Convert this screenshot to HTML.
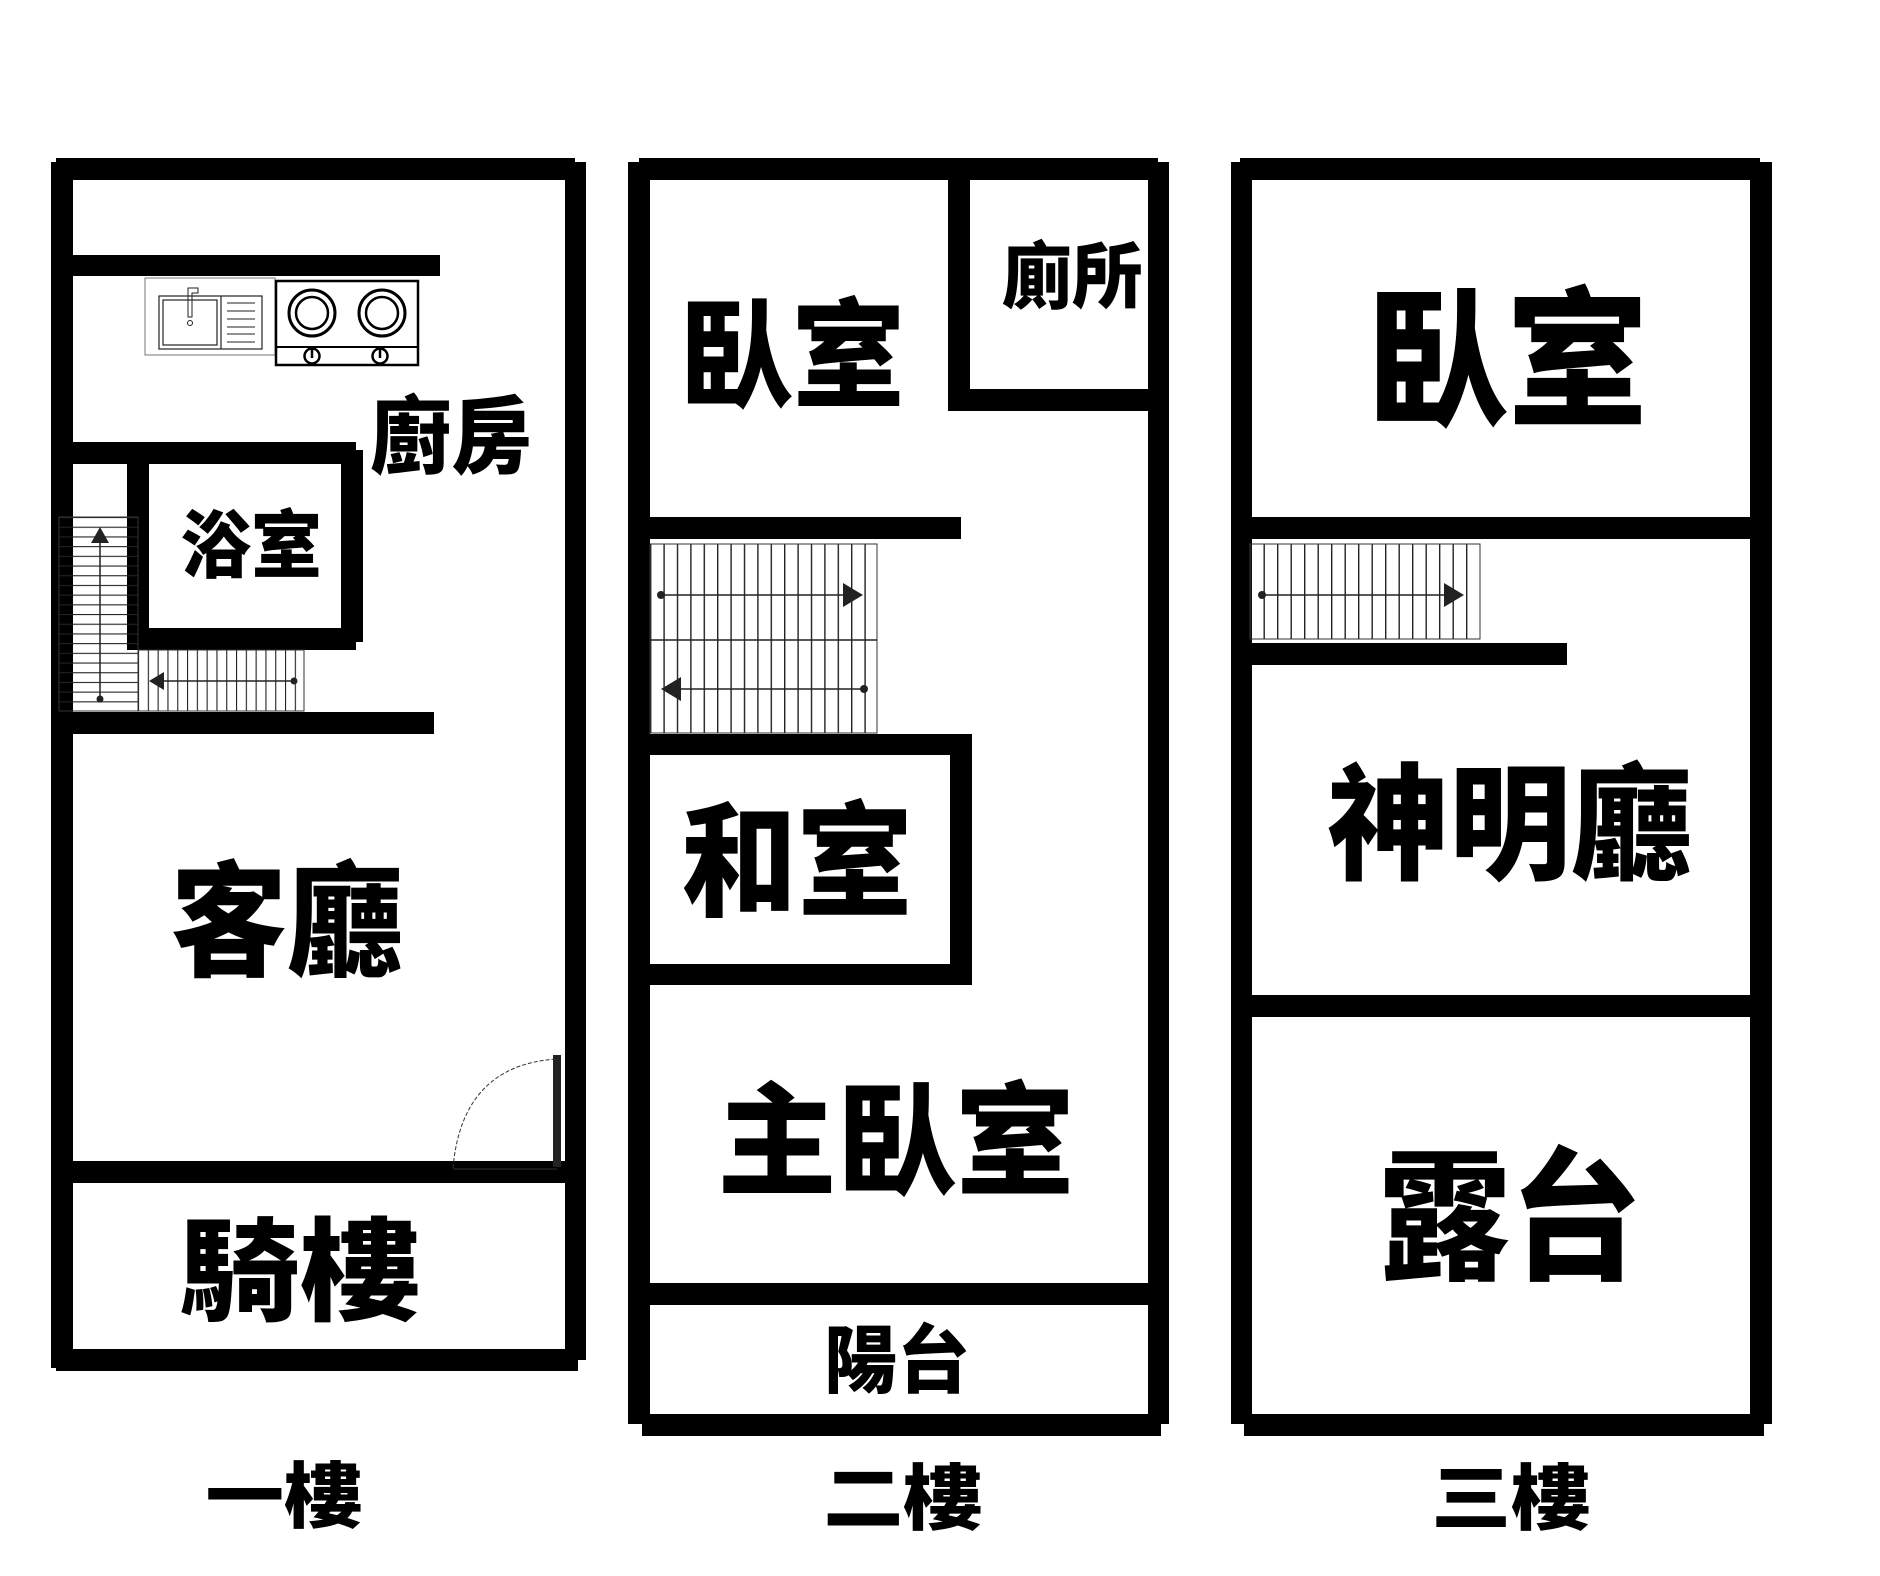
<!DOCTYPE html>
<html><head><meta charset="utf-8"><style>
html,body{margin:0;padding:0;background:#fff;}
svg{display:block;}
text{font-family:"Liberation Sans","Noto Sans CJK TC","Noto Sans CJK JP",sans-serif;font-weight:900;fill:#000;}
</style></head><body>
<svg width="1880" height="1576" viewBox="0 0 1880 1576" xmlns="http://www.w3.org/2000/svg">
<defs>
<pattern id="hl" x="0" y="517" width="20" height="9.7" patternUnits="userSpaceOnUse"><line x1="0" y1="0.5" x2="20" y2="0.5" stroke="#222" stroke-width="1.2"/></pattern>
<pattern id="vl1" x="138" y="0" width="9.8" height="20" patternUnits="userSpaceOnUse"><line x1="0.5" y1="0" x2="0.5" y2="20" stroke="#222" stroke-width="1.2"/></pattern>
<pattern id="vl2" x="650" y="0" width="13.4" height="20" patternUnits="userSpaceOnUse"><line x1="0.7" y1="0" x2="0.7" y2="20" stroke="#222" stroke-width="1.4"/></pattern>
<pattern id="vl3" x="1250" y="0" width="13.5" height="20" patternUnits="userSpaceOnUse"><line x1="0.7" y1="0" x2="0.7" y2="20" stroke="#222" stroke-width="1.4"/></pattern>
</defs>

<!-- ===== Floor 1 ===== -->
<g fill="#000">
<rect x="56" y="158" width="519" height="22"/>
<rect x="51" y="162" width="22" height="1206"/>
<rect x="565" y="162" width="21" height="1198"/>
<rect x="56" y="1349" width="522" height="22"/>
<rect x="73" y="255" width="367" height="21"/>
<rect x="73" y="442" width="283" height="22"/>
<rect x="127" y="442" width="22" height="208"/>
<rect x="341" y="450" width="22" height="192"/>
<rect x="138" y="628" width="218" height="22"/>
<rect x="73" y="712" width="361" height="22"/>
<rect x="73" y="1161" width="492" height="22"/>
<rect x="553" y="1055" width="8" height="112" fill="#222"/>
</g>
<path d="M453 1168 Q462 1065 557 1059" fill="none" stroke="#333" stroke-width="1" stroke-dasharray="4,2"/>
<line x1="453" y1="1169" x2="557" y2="1169" stroke="#333" stroke-width="1"/>
<!-- stairs floor1 -->
<rect x="59" y="517" width="79" height="194" fill="url(#hl)" stroke="#333" stroke-width="1"/>
<rect x="138" y="650" width="166" height="61" fill="url(#vl1)" stroke="#333" stroke-width="1"/>
<line x1="100" y1="699" x2="100" y2="540" stroke="#222" stroke-width="1.5"/>
<polygon points="100,527 91,543 109,543" fill="#222"/>
<circle cx="100" cy="699" r="3.5" fill="#222"/>
<line x1="294" y1="681" x2="160" y2="681" stroke="#222" stroke-width="1.5"/>
<polygon points="149,681 164,672 164,690" fill="#222"/>
<circle cx="294" cy="681" r="3.5" fill="#222"/>
<!-- sink -->
<g fill="none" stroke="#222">
<rect x="145" y="278" width="130" height="77" stroke-width="1" stroke="#777"/>
<rect x="159" y="296" width="103" height="53" stroke-width="1.2"/>
<line x1="221" y1="296" x2="221" y2="349" stroke-width="1.2"/>
<rect x="163" y="300" width="54" height="45" stroke-width="1.2"/>
<line x1="227" y1="303" x2="255" y2="303"/><line x1="227" y1="311" x2="255" y2="311"/><line x1="227" y1="319" x2="255" y2="319"/><line x1="227" y1="327" x2="255" y2="327"/><line x1="227" y1="334" x2="255" y2="334"/><line x1="227" y1="342" x2="255" y2="342"/>
<path d="M188 317 V288 H198 V293 H192 V317 Z" stroke-width="1"/>
<circle cx="190" cy="323" r="2.5" stroke-width="1"/>
<!-- stove -->
<rect x="276" y="281" width="142" height="84" stroke-width="2.5" stroke="#000"/>
<line x1="276" y1="347" x2="418" y2="347" stroke-width="2" stroke="#000"/>
<circle cx="312" cy="313" r="23" stroke-width="3" stroke="#000"/>
<circle cx="312" cy="313" r="16" stroke-width="2.5" stroke="#000"/>
<circle cx="382" cy="313" r="23" stroke-width="3" stroke="#000"/>
<circle cx="382" cy="313" r="16" stroke-width="2.5" stroke="#000"/>
<circle cx="312" cy="356" r="7.5" stroke-width="2.5" stroke="#000"/>
<circle cx="380" cy="356" r="7.5" stroke-width="2.5" stroke="#000"/>
<line x1="312" y1="349" x2="312" y2="358" stroke-width="2.5" stroke="#000"/>
<line x1="380" y1="349" x2="380" y2="358" stroke-width="2.5" stroke="#000"/>
</g>

<!-- ===== Floor 2 ===== -->
<g fill="#000">
<rect x="639" y="158" width="519" height="22"/>
<rect x="628" y="162" width="22" height="1262"/>
<rect x="1148" y="162" width="21" height="1262"/>
<rect x="642" y="1414" width="519" height="22"/>
<rect x="948" y="180" width="22" height="231"/>
<rect x="948" y="389" width="200" height="22"/>
<rect x="650" y="517" width="311" height="22"/>
<rect x="650" y="734" width="322" height="21"/>
<rect x="950" y="734" width="22" height="251"/>
<rect x="650" y="964" width="322" height="21"/>
<rect x="650" y="1283" width="498" height="22"/>
</g>
<rect x="650" y="544" width="227" height="189" fill="url(#vl2)" stroke="#333" stroke-width="1"/>
<line x1="650" y1="640" x2="877" y2="640" stroke="#222" stroke-width="1.5"/>
<line x1="661" y1="595" x2="848" y2="595" stroke="#222" stroke-width="1.5"/>
<polygon points="863,595 843,583 843,607" fill="#222"/>
<circle cx="661" cy="595" r="4" fill="#222"/>
<line x1="864" y1="689" x2="676" y2="689" stroke="#222" stroke-width="1.5"/>
<polygon points="661,689 681,677 681,701" fill="#222"/>
<circle cx="864" cy="689" r="4" fill="#222"/>

<!-- ===== Floor 3 ===== -->
<g fill="#000">
<rect x="1240" y="158" width="520" height="22"/>
<rect x="1231" y="162" width="21" height="1262"/>
<rect x="1750" y="162" width="22" height="1262"/>
<rect x="1244" y="1414" width="520" height="22"/>
<rect x="1252" y="517" width="498" height="22"/>
<rect x="1252" y="643" width="315" height="22"/>
<rect x="1252" y="995" width="498" height="22"/>
</g>
<rect x="1250" y="544" width="230" height="95" fill="url(#vl3)" stroke="#333" stroke-width="1"/>
<line x1="1262" y1="595" x2="1450" y2="595" stroke="#222" stroke-width="1.5"/>
<polygon points="1464,595 1444,583 1444,607" fill="#222"/>
<circle cx="1262" cy="595" r="4" fill="#222"/>

<!-- ===== Labels ===== -->
<g dominant-baseline="central" text-anchor="middle">
<text x="451" y="438" font-size="85" textLength="162" lengthAdjust="spacingAndGlyphs">廚房</text>
<text x="251" y="546" font-size="74" textLength="142" lengthAdjust="spacingAndGlyphs">浴室</text>
<text x="287" y="924" font-size="124" textLength="233" lengthAdjust="spacingAndGlyphs">客廳</text>
<text x="300" y="1273" font-size="112" textLength="241" lengthAdjust="spacingAndGlyphs">騎樓</text>
<text x="284" y="1498" font-size="72" textLength="157" lengthAdjust="spacingAndGlyphs">一樓</text>
<text x="792" y="358" font-size="118" textLength="226" lengthAdjust="spacingAndGlyphs">臥室</text>
<text x="1072" y="278" font-size="72" textLength="141" lengthAdjust="spacingAndGlyphs">廁所</text>
<text x="797" y="864" font-size="124" textLength="231" lengthAdjust="spacingAndGlyphs">和室</text>
<text x="896" y="1143" font-size="122" textLength="357" lengthAdjust="spacingAndGlyphs">主臥室</text>
<text x="897" y="1361" font-size="74" textLength="146" lengthAdjust="spacingAndGlyphs">陽台</text>
<text x="903" y="1500" font-size="72" textLength="159" lengthAdjust="spacingAndGlyphs">二樓</text>
<text x="1507" y="362" font-size="150" textLength="282" lengthAdjust="spacingAndGlyphs">臥室</text>
<text x="1510" y="826" font-size="126" textLength="365" lengthAdjust="spacingAndGlyphs">神明廳</text>
<text x="1510" y="1220" font-size="142" textLength="263" lengthAdjust="spacingAndGlyphs">露台</text>
<text x="1511" y="1500" font-size="72" textLength="159" lengthAdjust="spacingAndGlyphs">三樓</text>
</g>
</svg>
</body></html>
